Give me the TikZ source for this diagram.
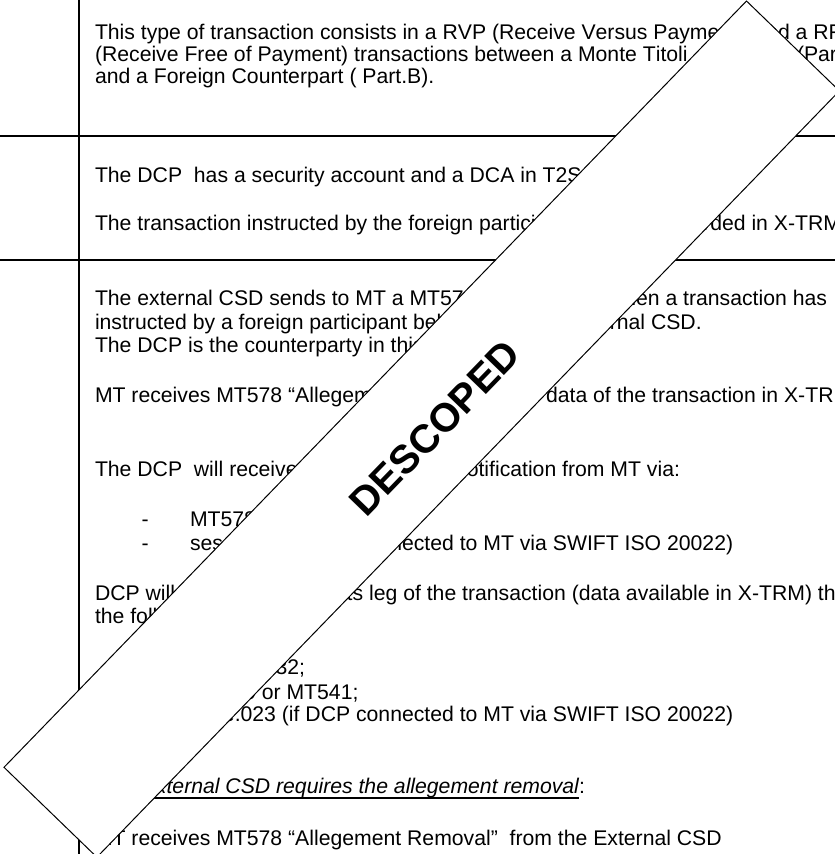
\documentclass[tikz,border=0pt]{standalone}
\usepackage{fontspec}
\setmainfont{Liberation Sans}[Ligatures={TeX,NoCommon},Kerning=Off]
\newcommand{\bodyfont}{\fontsize{21.2}{24}\selectfont}
\newcommand{\stampfont}{\fontsize{40}{44}\selectfont\bfseries}
\frenchspacing
\tikzset{
  txt/.style={anchor=base west, inner sep=0pt, outer sep=0pt, font=\bodyfont},
  txtr/.style={anchor=base east, inner sep=0pt, outer sep=0pt, font=\bodyfont},
  tablerule/.style={line width=2pt, line cap=rect},
  banner/.style={draw=black, fill=white, line width=1pt, line join=miter},
  stamp/.style={inner sep=0pt, font=\stampfont, rotate=45.9},
  uline/.style={line width=1.3pt},
}
\begin{document}
\begin{tikzpicture}[x=1pt,y=-1pt]
\useasboundingbox (0,0) rectangle (835,854);
\begin{scope}
\clip (0,0) rectangle (835,854);
% table rules
\coordinate (v1) at (79,-2);
\coordinate (v2) at (79,856);
\coordinate (h1a) at (-2,136);
\coordinate (h1b) at (837,136);
\coordinate (h2a) at (-2,260);
\coordinate (h2b) at (837,260);
\draw[tablerule] (v1) -- (v2);
\draw[tablerule] (h1a) -- (h1b);
\draw[tablerule] (h2a) -- (h2b);
% section 1
\node[txt] (n11) at (95,39.5) {This type of transaction consists in a RVP (Receive Versus Payment)};
\node[txt] (n12) at (754.5,39.5) {and a RFP};
\node[txt] (n21) at (95,61.5) {(Receive Free of Payment) transactions between a Monte Titoli};
\node[txt] (n22) at (797,61.5) {(Part.A)};
\node[txt] (n31) at (95,83.5) {and a Foreign Counterpart ( Part.B).};
% section 2
\node[txt] (n41) at (95,182) {The DCP\ \ has a security account and a DCA in T2S};
\node[txt] (n51) at (95,230) {The transaction instructed by the foreign participant};
\node[txt] (n52) at (662,230) {recorded in X-TRM};
% section 3
\node[txt] (n61) at (95,305.5) {The external CSD sends to MT a MT578};
\node[txtr] (n62) at (827,305.5) {when a transaction has};
\node[txt] (n71) at (95,329) {instructed by a foreign participant belonging};
\node[txtr] (n72) at (701.7,329) {to the external CSD.};
\node[txt] (n81) at (95,352.5) {The DCP is the counterparty in this};
\node[txt] (n91) at (95,402.7) {MT receives MT578 “Allegement”};
\node[txt] (n92) at (510.7,402.7) {the data of the transaction in X-TRM};
\node[txt] (n101) at (95,476.7) {The DCP\ \ will receive the};
\node[txtr] (n102) at (680,476.7) {notification from MT via:};
\node[txt] (d1) at (141.7,526) {-};
\node[txt] (i1) at (190,526) {MT578};
\node[txt] (d2) at (141.7,550) {-};
\node[txt] (i2) at (190,550) {sese.028 (if DCP connected to MT via SWIFT ISO 20022)};
\node[txt] (n131) at (95,600.5) {DCP will};
\node[txt] (n132) at (342,600.5) {its leg of the transaction (data available in X-TRM) through};
\node[txt] (n141) at (95,623.5) {the following:};
\node[txtr] (i3) at (305,674) {sese.032;};
\node[txt] (i4) at (190,699) {MT540 or MT541;};
\node[txt] (i5) at (190,721.7) {sese.023 (if DCP connected to MT via SWIFT ISO 20022)};
\node[txt] (n182) at (579,793) {:};
\node[txtr, font=\bodyfont\itshape] (n181) at (n182.base west) {If the External CSD requires the allegement removal};
\draw[uline] ([yshift=-5pt]n181.base west) -- ([yshift=-5pt]n181.base east);
\node[txt] (n191) at (95,845) {MT receives MT578 “Allegement Removal”\ \ from the External CSD};
% descoped banner
\coordinate (bT) at (746.5,1);
\coordinate (bR) at (839.4,90.9);
\coordinate (bB) at (96.9,857.2);
\coordinate (bL) at (4,767.3);
\draw[banner] (bT) -- (bR) -- (bB) -- (bL) -- cycle;
\node[stamp] (stampt) at (435,428) {DESCOPED};
\end{scope}
\end{tikzpicture}
\end{document}
